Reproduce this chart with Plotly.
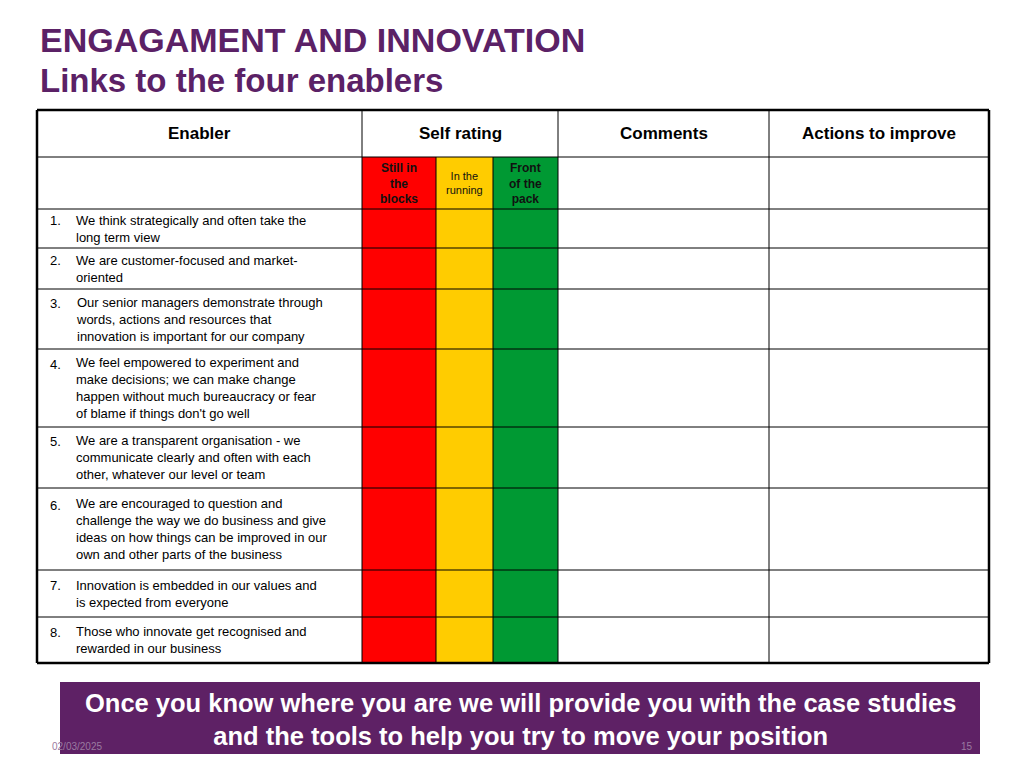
import plotly.graph_objects as go

title1 = "ENGAGAMENT AND INNOVATION"
title2 = "Links to the four enablers"
headers = ["Enabler", "Self rating", "Comments", "Actions to improve"]
rating_labels = ["<b>Still in<br>the<br>blocks</b>", "In the<br>running", "<b>Front<br>of the<br>pack</b>"]
rating_colors = ["#FF0000", "#FFCC00", "#009933"]
numbers = ["1.", "2.", "3.", "4.", "5.", "6.", "7.", "8."]
enablers = [
    "We think strategically and often take the<br>long term view",
    "We are customer-focused and market-<br>oriented",
    "Our senior managers demonstrate through<br>words, actions and resources that<br>innovation is important for our company",
    "We feel empowered to experiment and<br>make decisions; we can make change<br>happen without much bureaucracy or fear<br>of blame if things don't go well",
    "We are a transparent organisation - we<br>communicate clearly and often with each<br>other, whatever our level or team",
    "We are encouraged to question and<br>challenge the way we do business and give<br>ideas on how things can be improved in our<br>own and other parts of the business",
    "Innovation is embedded in our values and<br>is expected from everyone",
    "Those who innovate get recognised and<br>rewarded in our business",
]
footer_text = "<b>Once you know where you are we will provide you with the case studies<br>and the tools to help you try to move your position</b>"
date_text = "02/03/2025"
page_text = "15"

# layout geometry (pixels)
cols = [37, 362, 436, 493, 558, 769, 989]
row_edges = [110, 157, 209, 248, 289, 349, 427, 488, 570, 617, 663]
purple = "#5B2166"

fig = go.Figure()
shapes, ann = [], []
for r in range(len(enablers) + 1):
    y0, y1 = row_edges[r + 1], row_edges[r + 2]
    for c in range(3):
        shapes.append(dict(type="rect", x0=cols[1 + c], x1=cols[2 + c], y0=y0, y1=y1,
                           fillcolor=rating_colors[c], line=dict(width=0), layer="below"))
for i, y in enumerate(row_edges):
    w = 2.5 if i in (0, len(row_edges) - 1) else 1
    shapes.append(dict(type="line", x0=cols[0], x1=cols[-1], y0=y, y1=y, line=dict(color="black", width=w)))
for i, x in enumerate(cols):
    w = 2.5 if i in (0, len(cols) - 1) else 1
    y0 = row_edges[1] if i in (2, 3) else row_edges[0]
    shapes.append(dict(type="line", x0=x, x1=x, y0=y0, y1=row_edges[-1], line=dict(color="black", width=w)))
hx = [(cols[0] + cols[1]) / 2, (cols[1] + cols[4]) / 2, (cols[4] + cols[5]) / 2, (cols[5] + cols[6]) / 2]
for h, x in zip(headers, hx):
    ann.append(dict(x=x, y=(row_edges[0] + row_edges[1]) / 2, text="<b>" + h + "</b>", showarrow=False,
                    font=dict(size=17, color="black")))
for c, lab in enumerate(rating_labels):
    ann.append(dict(x=(cols[1 + c] + cols[2 + c]) / 2, y=(row_edges[1] + row_edges[2]) / 2, text=lab,
                    showarrow=False, font=dict(size=12 if c != 1 else 11, color="#111")))
for i, (n, t) in enumerate(zip(numbers, enablers)):
    yc = (row_edges[i + 2] + row_edges[i + 3]) / 2
    ann.append(dict(x=48, y=yc, text=n, showarrow=False, xanchor="left", yanchor="middle",
                    yshift=(t.count("<br>")) * 8, font=dict(size=13, color="black")))
    ann.append(dict(x=74, y=yc, text=t, showarrow=False, xanchor="left", yanchor="middle", align="left",
                    font=dict(size=13, color="black")))
ann.append(dict(x=38, y=40, text="<b>" + title1 + "</b>", showarrow=False, xanchor="left",
                font=dict(size=34, color=purple)))
ann.append(dict(x=38, y=80, text="<b>" + title2 + "</b>", showarrow=False, xanchor="left",
                font=dict(size=33, color=purple)))
shapes.append(dict(type="rect", x0=60, x1=980, y0=682, y1=754, fillcolor="#5E2165", line=dict(width=0)))
ann.append(dict(x=520, y=719, text=footer_text, showarrow=False, font=dict(size=25.5, color="white")))
ann.append(dict(x=50, y=746, text=date_text, showarrow=False, xanchor="left", font=dict(size=10, color="#9a7aa0")))
ann.append(dict(x=975, y=746, text=page_text, showarrow=False, xanchor="right", font=dict(size=10, color="#9a7aa0")))

fig.update_layout(width=1024, height=768, margin=dict(l=0, r=0, t=0, b=0),
                  paper_bgcolor="white", plot_bgcolor="white", shapes=shapes, annotations=ann,
                  font=dict(family="Liberation Sans, Arial"),
                  xaxis=dict(range=[8, 1032], visible=False, fixedrange=True),
                  yaxis=dict(range=[776, 8], visible=False, fixedrange=True))
fig.write_html("out.html", config={"displayModeBar": False})
